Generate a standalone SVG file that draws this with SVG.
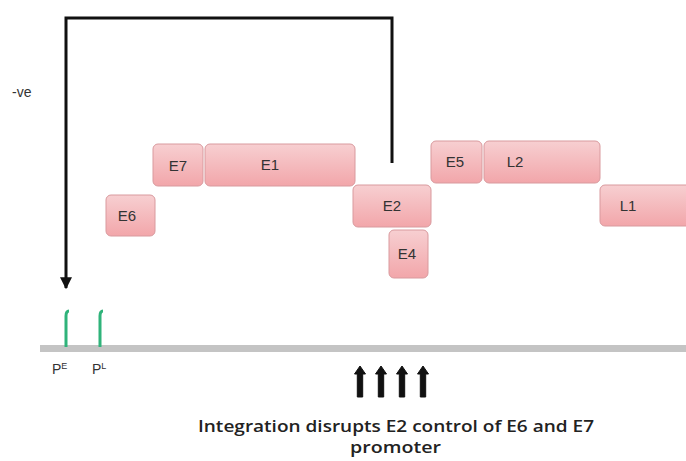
<svg xmlns="http://www.w3.org/2000/svg" width="686" height="461" viewBox="0 0 686 461">
<defs>
<linearGradient id="g" x1="0" y1="0" x2="0" y2="1">
<stop offset="0" stop-color="#f7cfd1"/>
<stop offset="1" stop-color="#f2a6aa"/>
</linearGradient>
<marker id="ah" viewBox="0 0 10 10" refX="9" refY="5" markerWidth="4" markerHeight="4" orient="auto" markerUnits="strokeWidth">
<path d="M0,0 L10,5 L0,10 z" fill="#111"/>
</marker>
<path id="up" d="M0,0 L5.5,8 L2.7,8 L2.7,31 L-2.7,31 L-2.7,8 L-5.5,8 z" fill="#111"/>
</defs>
<style>
.box{fill:url(#g);stroke:#d99a9e;stroke-width:1}
.lbl{font-family:"Liberation Sans",Arial,sans-serif;font-size:15px;fill:#333;text-anchor:middle}
.t{font-family:"Open Sans","Liberation Sans",sans-serif;font-size:17px;font-weight:600;fill:#222}
</style>
<rect width="686" height="461" fill="#fff"/>
<text x="12" y="97" font-family="Liberation Sans,Arial,sans-serif" font-size="14" fill="#333">-ve</text>
<g id="connectors" fill="none" stroke="#111">
<path d="M392,163 V18 H66 V288" stroke-width="3" marker-end="url(#ah)"/>
<use href="#up" x="360" y="366"/>
<use href="#up" x="381" y="366"/>
<use href="#up" x="402" y="366"/>
<use href="#up" x="423" y="366"/>
</g>
<g id="E7"><rect class="box" x="153" y="144" width="50" height="42" rx="5"/><text class="lbl" x="178" y="171">E7</text></g>
<g id="E1"><rect class="box" x="205" y="144" width="150" height="42" rx="5"/><text class="lbl" x="270" y="170">E1</text></g>
<g id="E6"><rect class="box" x="106" y="195" width="49" height="41" rx="5"/><text class="lbl" x="127" y="221">E6</text></g>
<g id="E2"><rect class="box" x="353" y="185" width="78" height="42" rx="5"/><text class="lbl" x="392" y="211">E2</text></g>
<g id="E4"><rect class="box" x="389" y="230" width="39" height="48" rx="5"/><text class="lbl" x="407" y="259">E4</text></g>
<g id="E5"><rect class="box" x="431" y="141" width="51" height="42" rx="5"/><text class="lbl" x="455" y="167">E5</text></g>
<g id="L2"><rect class="box" x="484" y="141" width="116" height="42" rx="5"/><text class="lbl" x="515" y="167">L2</text></g>
<g id="L1"><rect class="box" x="600" y="185" width="92" height="41" rx="5"/><text class="lbl" x="628" y="211">L1</text></g>
<g id="dna"><rect x="40" y="345" width="646" height="7" fill="#c4c4c4"/></g>
<g id="promoters" fill="none" stroke="#2fb37a" stroke-width="3">
<path d="M66,347 V316 Q66,311 69,311"/>
<path d="M100,347 V316 Q100,311 103,311"/>
</g>
<g id="plabels" font-family="Liberation Sans,Arial,sans-serif" fill="#333">
<text x="52" y="374" font-size="14">P<tspan font-size="9" dy="-5">E</tspan></text>
<text x="92" y="374" font-size="14">P<tspan font-size="9" dy="-5">L</tspan></text>
</g>
<text class="t" x="198" y="432" textLength="396" lengthAdjust="spacingAndGlyphs">Integration disrupts E2 control of E6 and E7</text>
<text class="t" x="350" y="453" textLength="91" lengthAdjust="spacingAndGlyphs">promoter</text>
</svg>
